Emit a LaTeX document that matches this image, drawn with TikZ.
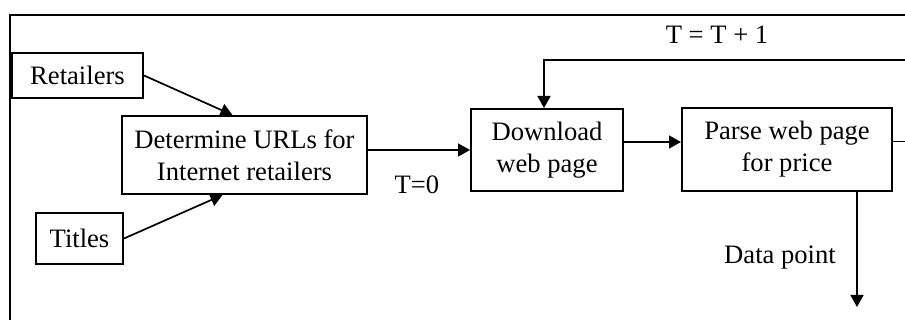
\documentclass[tikz,border=0pt]{standalone}
\usepackage{fontspec}
\setmainfont{Liberation Serif}
\usepackage{tikz}
\usetikzlibrary{positioning}
\usetikzlibrary{arrows.meta}

\begin{document}
\begin{tikzpicture}[x=0.5pt, y=-0.5pt,
        font=\fontsize{13.3}{16}\selectfont]
        \tikzstyle{stage}=[draw, line width=1pt, align=center,
            inner sep=0pt]
        \tikzstyle{flow}=[line width=0.85pt, -{Triangle[length=6pt, width=6.5pt]}]
        \clip (0,0) rectangle (905,320);
        \draw[line width=1.2pt] (10,15) rectangle (930,340);

            \node[stage, minimum width=65.5pt, minimum height=22.5pt] (ret) at (77.5,75.5) {Retailers};
            \node[stage, minimum width=43.5pt, minimum height=25.5pt] (tit) at (79.5,238.5) {Titles};
            \node[stage, minimum width=122.5pt, minimum height=39pt] (urls) at (244.5,155) {Determine URLs for\\Internet retailers};
            \node[stage, minimum width=76pt, minimum height=41pt] (dl) at (547,150) {Download\\web page};
            \node[stage, minimum width=105pt, minimum height=41.5pt] (parse) at (787,149.5) {Parse web page\\for price};

            \coordinate (loopE) at (910,142);
            \coordinate (loopNE) at (910,60);
            \coordinate (out) at (857,307);

            \draw[flow] (ret.east) -- ([xshift=-6pt]urls.north);
            \draw[flow] (tit.east) -- ([xshift=-11pt]urls.south);
            \draw[flow] (urls.east |- dl.west) -- (dl.west);
            \draw[flow] ([yshift=4pt]dl.east) -- ([yshift=4pt]dl.east -| parse.west);
            \draw[line width=0.85pt] ([yshift=4pt]parse.east) -- ([yshift=4pt]parse.east -| loopE);
            \draw[flow] (loopNE) -- ([xshift=-1.5pt]dl.north |- loopNE) -- ([xshift=-1.5pt]dl.north);
            \draw[flow] (parse.south -| out) -- (out);

            \node (t0) at (417,185) {T=0};
            \node (tinc) at (717,35) {T = T + 1};
            \node (dp) at (780,258) {Data point};
        \end{tikzpicture}
\end{document}
